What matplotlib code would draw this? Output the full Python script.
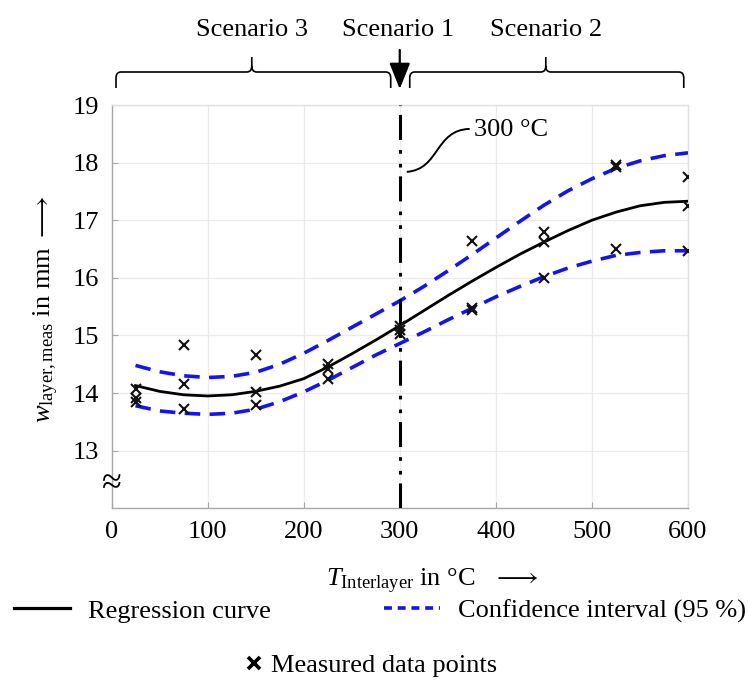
import numpy as np
import matplotlib
matplotlib.use("Agg")
import matplotlib.pyplot as plt
from matplotlib.path import Path
from matplotlib.patches import PathPatch
from matplotlib.lines import Line2D
import matplotlib.transforms as mtransforms

plt.rcParams['font.family'] = ['Liberation Serif', 'DejaVu Serif']
plt.rcParams['mathtext.fontset'] = 'custom'
plt.rcParams['mathtext.rm'] = 'Liberation Serif'
plt.rcParams['mathtext.it'] = 'Liberation Serif:italic'
plt.rcParams['mathtext.bf'] = 'Liberation Serif:bold'

# ---------------- data ----------------
meas_T = [25, 25, 25, 75, 75, 75, 150, 150, 150, 225, 225, 225, 300, 300, 300,
          375, 375, 375, 450, 450, 450, 525, 525, 525, 600, 600, 600]
meas_w = [14.07, 13.92, 13.85, 14.83, 14.15, 13.72, 14.66, 14.02, 13.80,
          14.50, 14.42, 14.24, 15.17, 15.10, 15.03, 16.64, 15.48, 15.45,
          16.79, 16.63, 16.00, 17.96, 17.93, 16.50, 17.75, 17.24, 16.46]

curve_T = [25, 50, 75, 100, 125, 150, 175, 200, 225, 250, 275, 300, 325, 350,
           375, 400, 425, 450, 475, 500, 525, 550, 575, 600]
reg_w = [14.13, 14.03, 13.97, 13.95, 13.97, 14.03, 14.12, 14.25, 14.45, 14.68,
         14.92, 15.17, 15.43, 15.69, 15.94, 16.18, 16.41, 16.62, 16.82, 17.00,
         17.14, 17.25, 17.31, 17.33]
ci_upper = [14.48, 14.37, 14.30, 14.27, 14.29, 14.36, 14.50, 14.69, 14.91, 15.14,
            15.37, 15.60, 15.85, 16.12, 16.40, 16.69, 16.98, 17.26, 17.51, 17.72,
            17.90, 18.03, 18.12, 18.17]
ci_lower = [13.78, 13.69, 13.65, 13.63, 13.65, 13.72, 13.85, 14.02, 14.22, 14.44,
            14.66, 14.86, 15.06, 15.27, 15.47, 15.67, 15.85, 16.02, 16.17, 16.29,
            16.39, 16.44, 16.47, 16.47]

x_ticks = [0, 100, 200, 300, 400, 500, 600]
y_ticks = [13, 14, 15, 16, 17, 18, 19]
scenario_T = 300
scenario_labels = ["Scenario 3", "Scenario 1", "Scenario 2"]

# ---------------- figure ----------------
W, H = 748, 695
fig = plt.figure(figsize=(W / 100, H / 100), dpi=100)
ax = fig.add_axes([111.5 / W, 1 - 508.3 / H, (688 - 111.5) / W, (508.3 - 105) / H])
ax.set_xlim(0, 600)
ax.set_ylim(12, 19)
ax.set_xticks(x_ticks)
ax.set_yticks(y_ticks)
ax.grid(True, color='#ebebeb', lw=0.9)
ax.set_axisbelow(True)
for s in ['left', 'bottom']:
    ax.spines[s].set_color('#a6a6a6')
    ax.spines[s].set_linewidth(1.0)
for s in ['top', 'right']:
    ax.spines[s].set_color('#e0e0e0')
    ax.spines[s].set_linewidth(1.0)
ax.tick_params(direction='in', length=4, color='#a6a6a6', labelsize=19, pad=9)

# confidence interval
ax.plot(curve_T, ci_upper, color='#1414f0', lw=2.6, ls=(0, (4.3, 2.6)), zorder=3)
ax.plot(curve_T, ci_lower, color='#1414f0', lw=2.6, ls=(0, (4.3, 2.6)), zorder=3)
# regression
ax.plot(curve_T, reg_w, color='black', lw=2.0, zorder=4, solid_joinstyle='round')
# measurements
ax.plot(meas_T, meas_w, ls='none', marker='x', ms=6.5, mew=1.5, color='#111111', zorder=5)
# scenario 1 line
ax.axvline(scenario_T, color='black', lw=2.2,
           ls=(0, (8.2, 2.9, 1.2, 3.3, 1.2, 3.3)), zorder=6)

# axis break mark
ax.text(0, 12.41, '≈', fontsize=26, ha='center', va='center', clip_on=False, zorder=7)

# 300 °C annotation with S-shaped leader
verts = [(307.3, 17.84), (341.6, 17.88), (336.4, 18.57), (372.8, 18.585)]
codes = [Path.MOVETO, Path.CURVE4, Path.CURVE4, Path.CURVE4]
ax.add_patch(PathPatch(Path(verts, codes), fc='none', ec='black', lw=1.4, zorder=6))
ax.text(377, 18.57, '300 °C', fontsize=19, ha='left', va='center')

# ---------------- braces & scenario labels above the axes ----------------
pix_y = mtransforms.Affine2D().scale(1 / W, -1 / H).translate(0, 1) + fig.transFigure
trans = mtransforms.blended_transform_factory(ax.transData, pix_y)
rx = 5 * 600 / 576.5


def brace(x0, x1, xc, y_tip=88, y_bar=72, y_peak=57):
    v = [(x0, y_tip), (x0, y_bar + 6), (x0, y_bar), (x0 + rx, y_bar),
         (xc - rx, y_bar), (xc, y_bar), (xc, y_bar - 6), (xc, y_peak),
         (xc, y_bar - 6), (xc, y_bar), (xc + rx, y_bar),
         (x1 - rx, y_bar), (x1, y_bar), (x1, y_bar + 6), (x1, y_tip)]
    c = [Path.MOVETO, Path.LINETO, Path.CURVE3, Path.CURVE3,
         Path.LINETO, Path.CURVE3, Path.CURVE3, Path.LINETO,
         Path.MOVETO, Path.CURVE3, Path.CURVE3,
         Path.LINETO, Path.CURVE3, Path.CURVE3, Path.LINETO]
    p = PathPatch(Path(v, c), fc='none', ec='black', lw=1.2, transform=trans, clip_on=False)
    fig.add_artist(p)


brace(4.7, 290.6, 146)
brace(310.4, 595.6, 452)

for xt, lab in zip([146, 298, 452], scenario_labels):
    fig.text(0, 30, lab, fontsize=19, ha='center', va='center', transform=trans)
    fig.texts[-1].set_x(xt)

ax.annotate('', xy=(scenario_T, H - 89), xycoords=('data', 'figure pixels'),
            xytext=(scenario_T, H - 50), textcoords=('data', 'figure pixels'),
            arrowprops=dict(arrowstyle='-|>,head_length=0.8,head_width=0.32',
                            mutation_scale=20, lw=1.6, color='black',
                            shrinkA=0, shrinkB=0))

# ---------------- axis labels ----------------
fig.text(401 / W, 1 - 581 / H, r'$T_{\mathrm{Interlayer}}$ in °C', fontsize=19,
         ha='center', va='center')
fig.text(493 / W, 1 - 578 / H, r'$\longrightarrow$', fontsize=19, ha='left', va='center')
fig.text(46 / W, 1 - 309 / H, r'$w_{\mathrm{layer,meas}}$ in mm $\longrightarrow$',
         fontsize=19, ha='center', va='center', rotation=90)

# ---------------- legend ----------------
h_reg = Line2D([], [], color='black', lw=2.3)
h_ci = Line2D([], [], color='#1414f0', lw=2.6, ls=(0, (2.2, 1.6)))
leg1 = fig.legend(handles=[h_reg, h_ci],
                  labels=['Regression curve', 'Confidence interval (95 %)'],
                  ncol=2, loc='center', bbox_to_anchor=(380 / W, 1 - 611 / H),
                  frameon=False, fontsize=19, handlelength=2.1, handletextpad=0.68,
                  columnspacing=4.3, borderaxespad=0, borderpad=0)
h_m = Line2D([], [], ls='none', marker='x', ms=8, mew=2.6, color='black')
leg2 = fig.legend(handles=[h_m], labels=['Measured data points'], loc='center',
                  bbox_to_anchor=(372 / W, 1 - 665 / H), frameon=False, fontsize=19,
                  handlelength=0.5, handletextpad=0.4, borderaxespad=0, borderpad=0)

fig.savefig('out.png', dpi=100)
